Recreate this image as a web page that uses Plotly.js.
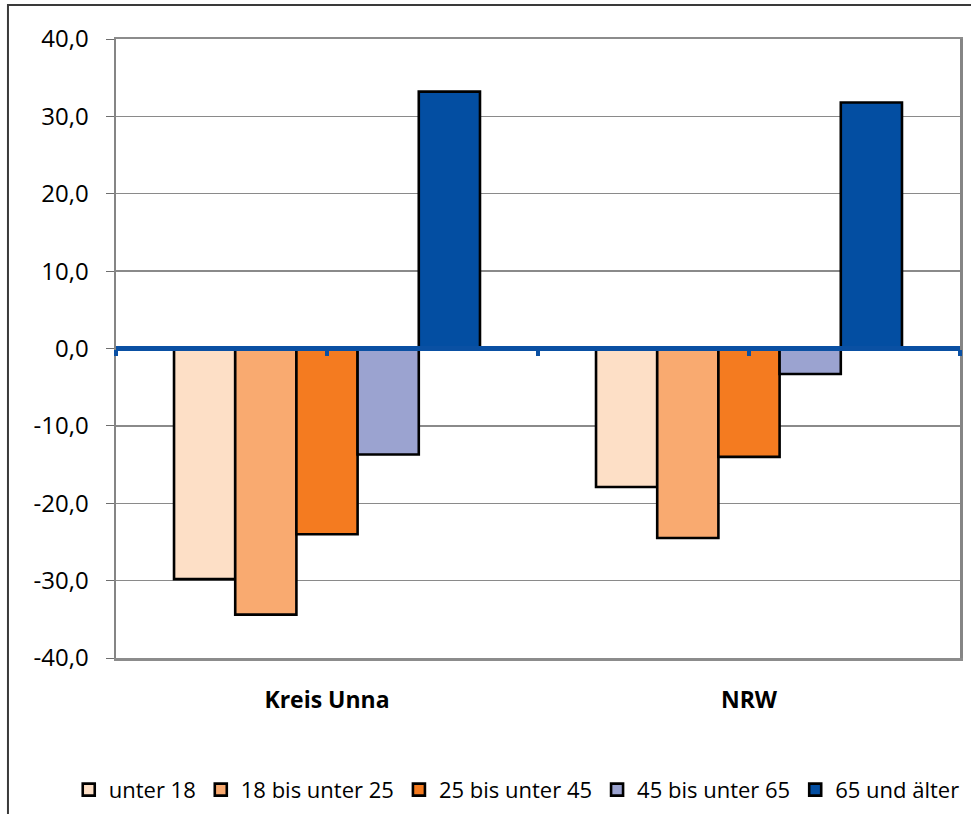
<!DOCTYPE html>
<html>
<head>
<meta charset="utf-8">
<script src="https://cdn.plot.ly/plotly-3.0.1.min.js"></script>
<style>html,body{margin:0;padding:0;background:#fff;}#chart{width:971px;height:814px;}</style>
</head>
<body>
<div id="chart"></div>
<script>
const categories = ["Kreis Unna", "NRW"];
const seriesNames = ["unter 18", "18 bis unter 25", "25 bis unter 45", "45 bis unter 65", "65 und älter"];
const seriesColors = ["#FDDFC6", "#F9AA70", "#F47B20", "#9BA3D0", "#034EA2"];
const unter18 = [-29.8, -17.9];
const bis25 = [-34.4, -24.5];
const bis45 = [-24.0, -14.0];
const bis65 = [-13.7, -3.3];
const ab65 = [33.2, 31.8];
const seriesValues = [unter18, bis25, bis45, bis65, ab65];
const yTicks = [-40, -30, -20, -10, 0, 10, 20, 30, 40];
const yTickText = ["-40,0", "-30,0", "-20,0", "-10,0", "0,0", "10,0", "20,0", "30,0", "40,0"];
const zeroTickPositions = [-0.5, 0, 0.5, 1, 1.5];

const font = "'Open Sans', 'Noto Sans', sans-serif";

const traces = seriesNames.map((name, i) => ({
  type: "bar",
  name: name,
  x: categories,
  y: seriesValues[i],
  marker: { color: seriesColors[i], line: { color: "#000000", width: 2.6 } },
  hoverinfo: "skip"
}));

traces.push({
  type: "scatter", x: [], y: [], xaxis: "x2", yaxis: "y", showlegend: false, hoverinfo: "skip"
});

const layout = {
  width: 971,
  height: 814,
  margin: { l: 116, r: 11, t: 39, b: 156, autoexpand: false },
  paper_bgcolor: "#ffffff",
  plot_bgcolor: "#ffffff",
  barmode: "group",
  bargap: 0.275,
  bargroupgap: 0,
  showlegend: true,
  font: { family: font, size: 22, color: "#000000" },
  xaxis: {
    type: "category",
    range: [-0.5, 1.5],
    showgrid: false,
    zeroline: false,
    showline: true,
    mirror: true,
    linecolor: "#8c8c8c",
    linewidth: 2.5,
    ticks: "",
    tickfont: { family: font, size: 23, color: "#000000", weight: "bold" },
    ticklabelstandoff: 20
  },
  xaxis2: {
    overlaying: "x",
    anchor: "free",
    position: 0.5,
    type: "linear",
    range: [-0.5, 1.5],
    tickvals: zeroTickPositions,
    ticks: "outside",
    ticklen: 6,
    tickwidth: 4,
    tickcolor: "#0A50A3",
    showticklabels: false,
    showgrid: false,
    zeroline: false,
    showline: false
  },
  yaxis: {
    range: [-40, 40],
    tickvals: yTicks,
    ticktext: yTickText,
    showgrid: true,
    gridcolor: "#8a8a8a",
    gridwidth: 1.3,
    zeroline: true,
    zerolinecolor: "#0A50A3",
    zerolinewidth: 5,
    zerolinelayer: "above traces",
    showline: true,
    mirror: true,
    linecolor: "#858585",
    linewidth: 2.5,
    ticks: "outside",
    ticklen: 8,
    tickcolor: "#6e6e6e",
    tickwidth: 1,
    tickfont: { family: font, size: 24, color: "#000000" },
    ticklabelstandoff: 12
  },
  legend: {
    orientation: "h",
    x: -0.056,
    xanchor: "left",
    y: -0.213,
    yanchor: "middle",
    font: { family: font, size: 22, color: "#000000" },
    itemwidth: 30,
    tracegroupgap: 0,
    bgcolor: "rgba(0,0,0,0)"
  },
  shapes: [
    { type: "rect", xref: "paper", yref: "paper", x0: -0.128, x1: 1.05, y0: -0.5, y1: 1.055,
      line: { color: "#3a3a3a", width: 2 }, fillcolor: "rgba(0,0,0,0)", layer: "below" }
  ]
};

Plotly.newPlot("chart", traces, layout, { displayModeBar: false, staticPlot: true });
</script>
</body>
</html>
